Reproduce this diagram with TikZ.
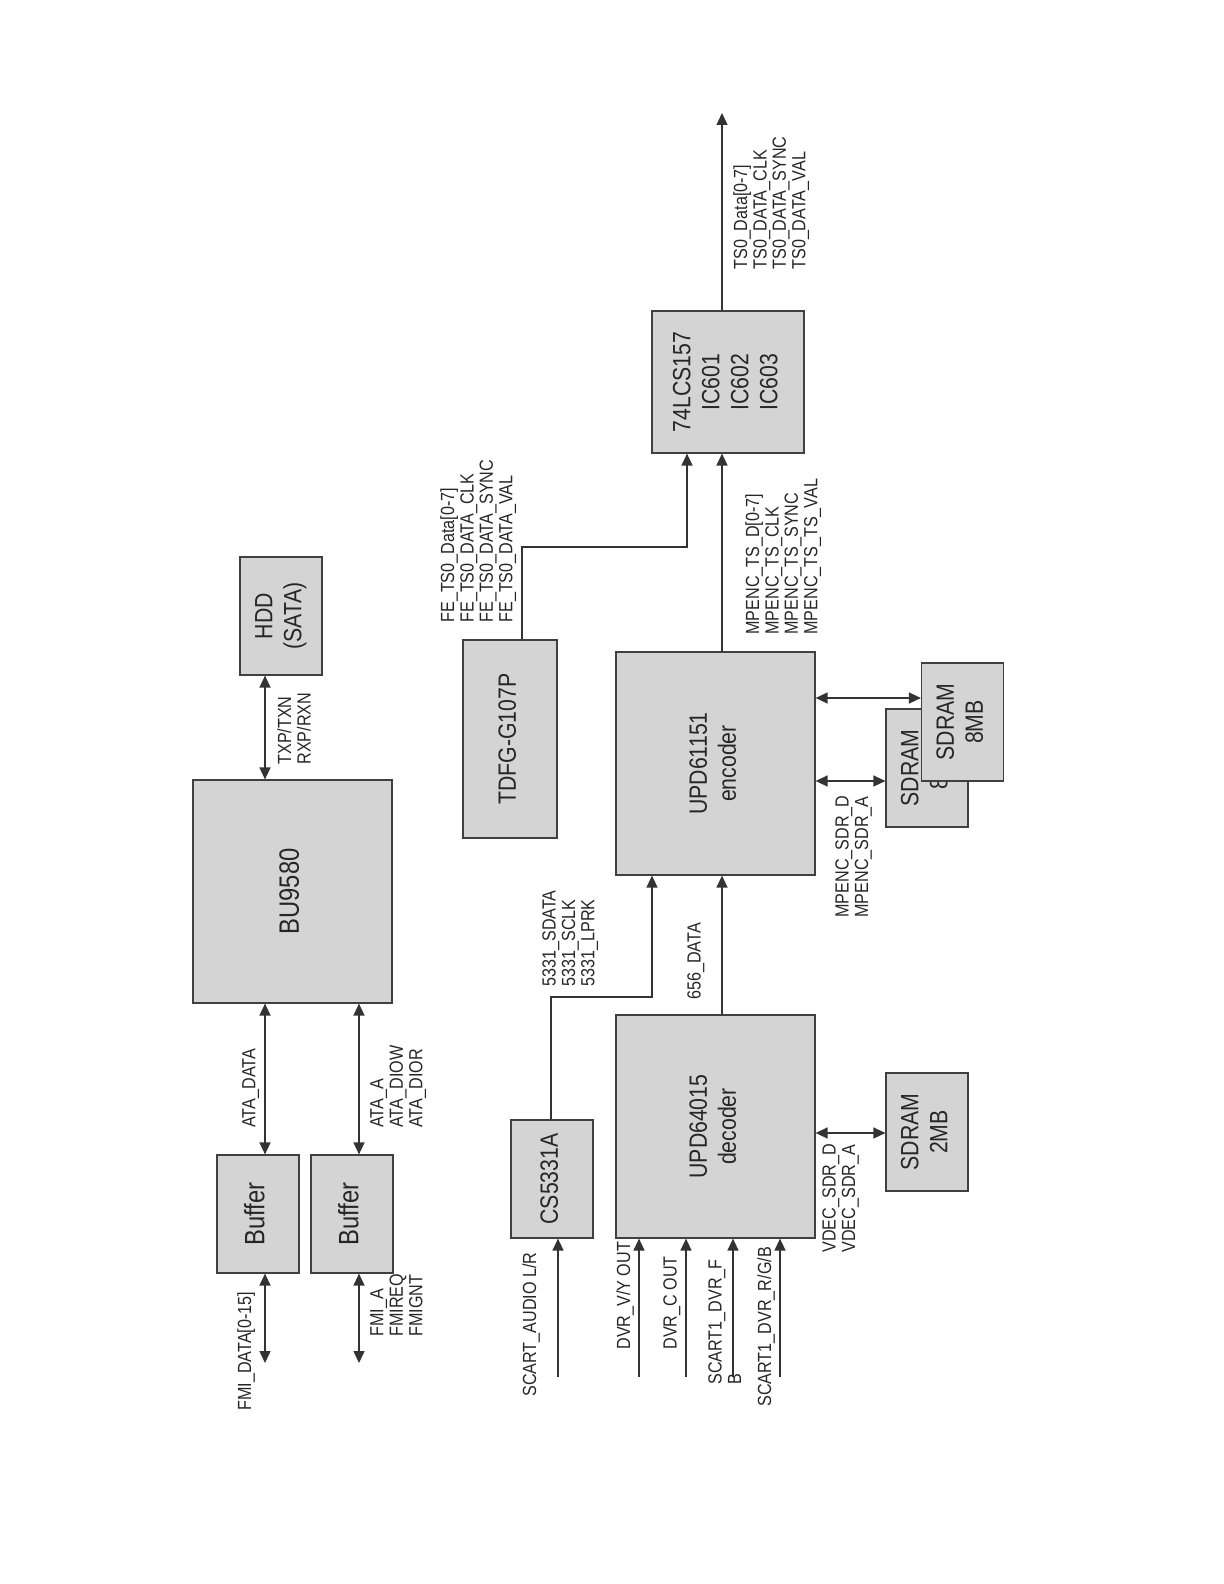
\documentclass[tikz,border=0pt]{standalone}
\usepackage{graphicx}
\usepackage{fontspec}
\setmainfont{Liberation Sans}[FakeStretch=0.85]
\usetikzlibrary{arrows.meta}
\newcommand{\rt}[1]{\rotatebox{90}{\begin{tabular}{@{}c@{}}#1\end{tabular}}}

\begin{document}
\begin{tikzpicture}[
    x=0.5pt, y=-0.5pt,
    >={Triangle[length=6pt,width=5.5pt]},
    bloco/.style={draw=black!75, line width=0.6pt, fill=black!17, inner sep=0pt, font=\fontsize{12.5}{14.5}\selectfont, text=black!85},
    grande/.style={font=\fontsize{14}{16}\selectfont},
    pequeno/.style={bloco, minimum width=41pt, minimum height=59pt},
    rotulo/.style={rotate=90, anchor=north west, inner sep=0pt, align=left, font=\fontsize{9.5}{9.7}\selectfont, text=black!85},
    seta/.style={->, line width=0.7pt, black!80},
    barra/.style={<->, line width=0.7pt, black!80}
  ]
    \useasboundingbox (0,0) rectangle (1224,1584);

    % Blocos
    \node[pequeno] (hdd) at (281,616) {\rt{HDD\\(SATA)}};
    \node[bloco, grande, minimum width=99.5pt, minimum height=111.5pt] (bu) at (292.5,891.5) {\rt{BU9580}};
    \node[pequeno, grande] (buf1) at (258,1214) {\rt{Buffer}};
    \node[pequeno, grande] (buf2) at (352,1214) {\rt{Buffer}};
    \node[bloco, minimum width=47pt, minimum height=99pt] (tdfg) at (510,739) {\rt{TDFG-G107P}};
    \node[bloco, minimum width=76pt, minimum height=71pt] (mux) at (728,382) {\rt{74LCS157\\IC601\\IC602\\IC603}};
    \node[bloco, minimum width=99.5pt, minimum height=111.5pt] (enc) at (715.5,763.5) {\rt{UPD61151\\encoder}};
    \node[pequeno] (sdb) at (927,768) {\rt{SDRAM\\8MB}};
    \node[pequeno] (sdf) at (962.5,722) {\rt{SDRAM\\8MB}};
    \node[pequeno] (cs) at (552,1179) {\rt{CS5331A}};
    \node[bloco, minimum width=99.5pt, minimum height=111.5pt] (dec) at (715.5,1126.5) {\rt{UPD64015\\decoder}};
    \node[pequeno] (sd2) at (927,1132) {\rt{SDRAM\\2MB}};

    % Pontos livres e dobras
    \coordinate (fmi1) at (265,1363);
    \coordinate (fmi2) at (359,1363);
    \coordinate (saida) at (722,113);
    \coordinate (dobra1) at (522,547);
    \coordinate (dobra2) at (551,997);

    % Ligacoes
    \draw[barra] (hdd.south -| 265,0) -- (bu.north -| 265,0);
    \draw[barra] (bu.south -| fmi1) -- (buf1.north -| fmi1);
    \draw[barra] (bu.south -| fmi2) -- (buf2.north -| fmi2);
    \draw[barra] (buf1.south -| fmi1) -- (fmi1);
    \draw[barra] (buf2.south -| fmi2) -- (fmi2);
    \draw[seta] (tdfg.north -| dobra1) -- (dobra1) -| (mux.south -| 687,0);
    \draw[seta] (enc.north -| saida) -- (mux.south -| saida);
    \draw[seta] (mux.north -| saida) -- (saida);
    \draw[barra] (enc.east |- 0,698) -- (sdf.west |- 0,698);
    \draw[barra] (enc.east |- 0,781) -- (sdb.west |- 0,781);
    \draw[seta] (cs.north -| dobra2) -- (dobra2) -| (enc.south -| 652,0);
    \draw[seta] (dec.north -| saida) -- (enc.south -| saida);
    \draw[barra] (dec.east |- 0,1133) -- (sd2.west |- 0,1133);
    \foreach \x/\n in {558/cs, 639/dec, 686/dec, 733/dec, 780/dec} {
      \coordinate (in\x) at (\x,1377);
      \draw[seta] (in\x) -- (\n.south -| in\x);
    }

    % Rotulos
    \node[rotulo] (l-sata) at (277,765) {TXP/TXN\\RXP/RXN};
    \node[rotulo] (l-atad) at (242,1128) {ATA\_DATA};
    \node[rotulo] (l-ataa) at (370,1128) {ATA\_A\\ATA\_DIOW\\ATA\_DIOR};
    \node[rotulo] (l-fmid) at (237,1411) {FMI\_DATA[0-15]};
    \node[rotulo] (l-fmia) at (370,1337) {FMI\_A\\FMIREQ\\FMIGNT};
    \node[rotulo] (l-fe) at (440,623) {FE\_TS0\_Data[0-7]\\FE\_TS0\_DATA\_CLK\\FE\_TS0\_DATA\_SYNC\\FE\_TS0\_DATA\_VAL};
    \node[rotulo] (l-mpts) at (745,635) {MPENC\_TS\_D[0-7]\\MPENC\_TS\_CLK\\MPENC\_TS\_SYNC\\MPENC\_TS\_TS\_VAL};
    \node[rotulo] (l-ts0) at (733,270) {TS0\_Data[0-7]\\TS0\_DATA\_CLK\\TS0\_DATA\_SYNC\\TS0\_DATA\_VAL};
    \node[rotulo] (l-mpsdr) at (835,918) {MPENC\_SDR\_D\\MPENC\_SDR\_A};
    \node[rotulo] (l-5331) at (542,987) {5331\_SDATA\\5331\_SCLK\\5331\_LPRK};
    \node[rotulo] (l-656) at (687,1000) {656\_DATA};
    \node[rotulo] (l-vdec) at (822,1253) {VDEC\_SDR\_D\\VDEC\_SDR\_A};
    \node[rotulo] (l-audio) at (522,1397) {SCART\_AUDIO L/R};
    \node[rotulo] (l-vy) at (616,1350) {DVR\_V/Y OUT};
    \node[rotulo] (l-c) at (663,1350) {DVR\_C OUT};
    \node[rotulo] (l-f) at (708,1385) {SCART1\_DVR\_F\\B};
    \node[rotulo] (l-rgb) at (757,1407) {SCART1\_DVR\_R/G/B};
\end{tikzpicture}
\end{document}
